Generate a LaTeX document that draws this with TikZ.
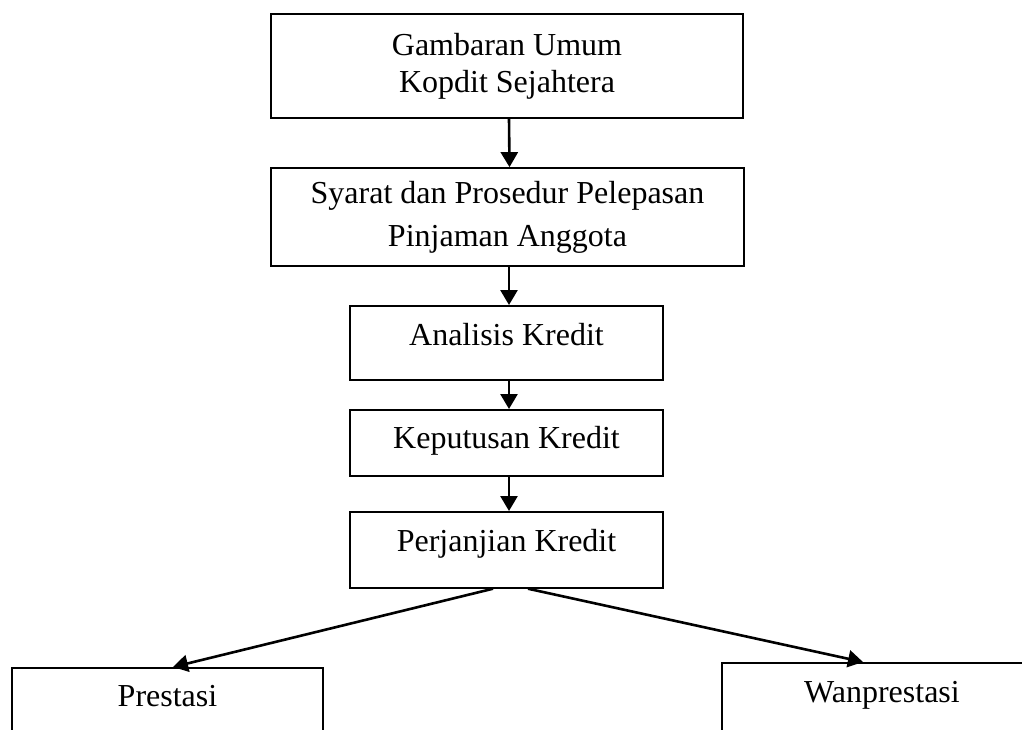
\documentclass[tikz,border=0pt]{standalone}
\usepackage{fontspec}
\setmainfont{Liberation Serif}
\usetikzlibrary{arrows.meta}

\begin{document}
\begin{tikzpicture}[x=0.5pt,y=-0.5pt,
		kotak/.style={draw, line width=0.85pt, inner sep=0pt, align=center,
			font=\fontsize{16}{18.5}\selectfont},
		panah/.style={-{Triangle[length=7.5pt,width=8.5pt]}, line width=1.3pt}]
			\useasboundingbox (0,0) rectangle (1022,729);
			\clip (0,0) rectangle (1022,729);
			\node[kotak, minimum width=236pt, minimum height=52pt] (gambaran) at (507,66)
				{Gambaran Umum\\Kopdit Sejahtera};
			\node[kotak, minimum width=236.5pt, minimum height=49pt] (syarat) at (507.5,217)
				{Syarat dan Prosedur Pelepasan\\[3pt]Pinjaman Anggota};
			\node[kotak, anchor=north, minimum width=156.5pt, text height=20pt, text depth=17pt] (analisis) at (506.5,305)
				{Analisis Kredit};
			\node[kotak, anchor=north, minimum width=156.5pt, text height=19.5pt, text depth=13.5pt] (keputusan) at (506.5,409)
				{Keputusan Kredit};
			\node[kotak, anchor=north, minimum width=156.5pt, text height=20pt, text depth=18pt] (perjanjian) at (506.5,511)
				{Perjanjian Kredit};
			\node[kotak, anchor=north, minimum width=155.5pt, text height=19.5pt, text depth=40pt] (prestasi) at (167.5,667)
				{Prestasi};
			\node[kotak, anchor=north, minimum width=160pt, text height=20pt, text depth=40pt] (wanprestasi) at (882,662)
				{Wanprestasi};
			\draw[panah] ([xshift=1pt]gambaran.south) -- ([xshift=1pt]syarat.north);
			\draw[panah] ([xshift=0.75pt]syarat.south) -- ([xshift=1.25pt]analisis.north);
			\draw[panah] ([xshift=1.25pt]analisis.south) -- ([xshift=1.25pt]keputusan.north);
			\draw[panah] ([xshift=1.25pt]keputusan.south) -- ([xshift=1.25pt]perjanjian.north);
			\draw[panah] ([xshift=-6.75pt]perjanjian.south) -- ([xshift=2.75pt]prestasi.north);
			\draw[panah] ([xshift=10.75pt]perjanjian.south) -- ([xshift=-9.5pt]wanprestasi.north);
		\end{tikzpicture}
\end{document}
